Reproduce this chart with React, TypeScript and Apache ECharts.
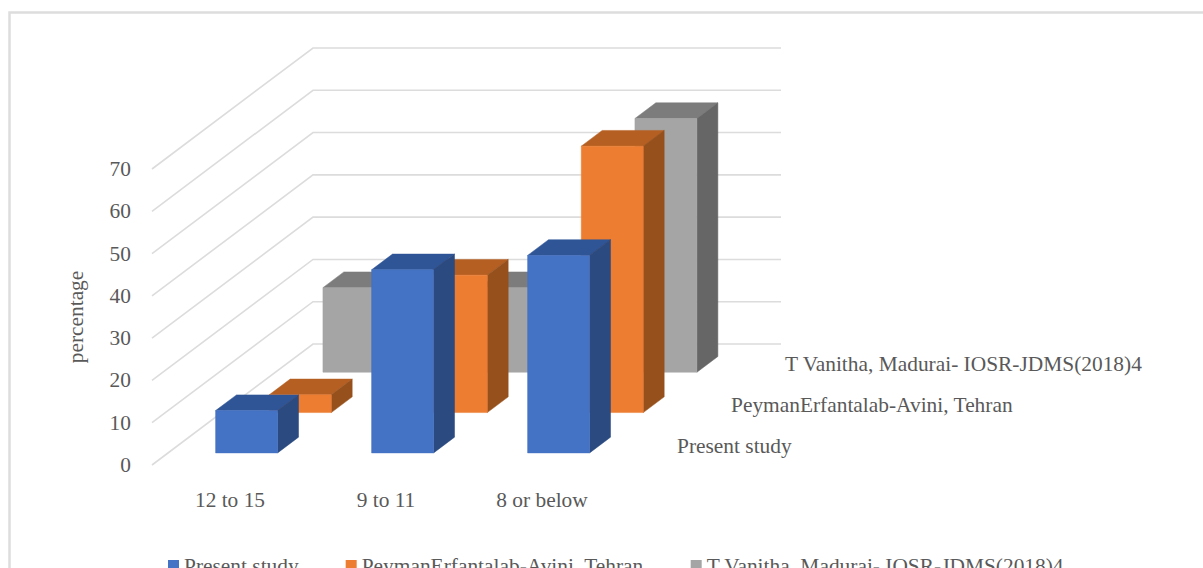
import React, { useEffect, useRef } from "react";
import * as echarts from "echarts";

const categories = ["12 to 15", "9 to 11", "8 or below"];
const seriesNames = [
  "Present study",
  "PeymanErfantalab-Avini, Tehran",
  "T Vanitha, Madurai- IOSR-JDMS(2018)4",
];
const presentStudy = [10, 43.3, 46.7];
const peymanTehran = [4.2, 32.5, 63];
const vanithaMadurai = [20, 20, 60];
const valueTicks = [0, 10, 20, 30, 40, 50, 60, 70];

const frontColors = ["#4472C4", "#ED7D31", "#A5A5A5"];
const topColors = ["#2F5597", "#B55F22", "#7C7C7C"];
const sideColors = ["#2A4A80", "#96501C", "#666666"];

// Oblique projection of the chart's depth direction, in pixels.
const DEPTH_X = 161;
const DEPTH_Y = -121;
const BAR_WIDTH = 62;
const ROW_START = 0.1;
const ROW_STEP = 1 / 3;
const BAR_DEPTH = 0.13;

const FONT = '"Liberation Serif", "Times New Roman", serif';
const TEXT_COLOR = "#595959";
const FONT_SIZE = 21.4;

function wallRenderer(params: any, api: any) {
  const cs = params.coordSys;
  const y = api.coord([0, api.value(0)])[1];
  return {
    type: "polyline",
    shape: {
      points: [
        [cs.x, y],
        [cs.x + DEPTH_X, y + DEPTH_Y],
        [cs.x + cs.width + DEPTH_X, y + DEPTH_Y],
      ],
    },
    style: { stroke: "#DCDCDC", lineWidth: 1.6, fill: "none" },
  };
}

function barRenderer(row: number) {
  return (_params: any, api: any) => {
    const base = api.coord([api.value(0), 0]);
    const head = api.coord([api.value(0), api.value(1)]);
    const start = ROW_START + row * ROW_STEP;
    const ox = start * DEPTH_X;
    const oy = start * DEPTH_Y;
    const dx = BAR_DEPTH * DEPTH_X;
    const dy = BAR_DEPTH * DEPTH_Y;
    const xl = base[0] - BAR_WIDTH / 2 + ox + 0.5;
    const xr = xl + BAR_WIDTH;
    const yb = base[1] + oy;
    const yt = head[1] + oy;
    const face = (points: number[][], fill: string) => ({
      type: "polygon",
      shape: { points },
      style: { fill, stroke: fill, lineWidth: 0.5 },
    });
    return {
      type: "group",
      children: [
        face(
          [[xl, yt], [xl + dx, yt + dy], [xr + dx, yt + dy], [xr, yt]],
          topColors[row]
        ),
        face(
          [[xr, yt], [xr + dx, yt + dy], [xr + dx, yb + dy], [xr, yb]],
          sideColors[row]
        ),
        face([[xl, yt], [xr, yt], [xr, yb], [xl, yb]], frontColors[row]),
      ],
    };
  };
}

const rowValues = [presentStudy, peymanTehran, vanithaMadurai];
const rowLabelPositions = [
  [677, 446],
  [731, 405],
  [785, 364],
];

export default function App() {
  const ref = useRef<HTMLDivElement>(null);

  useEffect(() => {
    const chart = echarts.init(ref.current!, null, { renderer: "svg" });
    chart.setOption({
      animation: false,
      backgroundColor: "#FFFFFF",
      textStyle: { fontFamily: FONT },
      grid: { left: 152, right: 583, top: 169, bottom: 103 },
      xAxis: {
        type: "category",
        data: categories,
        axisLine: { show: false },
        axisTick: { show: false },
        axisLabel: {
          color: TEXT_COLOR,
          fontFamily: FONT,
          fontSize: FONT_SIZE,
          margin: 24,
        },
      },
      yAxis: {
        type: "value",
        min: 0,
        max: 70,
        interval: 10,
        name: "percentage",
        nameLocation: "middle",
        nameGap: 66,
        nameTextStyle: { color: TEXT_COLOR, fontFamily: FONT, fontSize: FONT_SIZE },
        axisLine: { show: false },
        axisTick: { show: false },
        splitLine: { show: false },
        axisLabel: {
          color: TEXT_COLOR,
          fontFamily: FONT,
          fontSize: FONT_SIZE,
          margin: 21,
          padding: [3, 0, 0, 0],
        },
      },
      legend: {
        data: seriesNames,
        left: 163,
        top: 550,
        icon: "rect",
        itemWidth: 11,
        itemHeight: 11,
        itemGap: 47,
        textStyle: { color: TEXT_COLOR, fontFamily: FONT, fontSize: FONT_SIZE },
        selectedMode: false,
      },
      graphic: [
        {
          type: "polyline",
          silent: true,
          z: -10,
          shape: {
            points: [
              [9.5, 580],
              [9.5, 12.5],
              [1203, 12.5],
            ],
          },
          style: { fill: "none", stroke: "#DDDDDD", lineWidth: 2.5 },
        },
        ...seriesNames.map((name, i) => ({
          type: "text",
          silent: true,
          x: rowLabelPositions[i][0],
          y: rowLabelPositions[i][1],
          style: {
            text: name,
            fill: TEXT_COLOR,
            font: `${FONT_SIZE}px ${FONT}`,
            verticalAlign: "middle",
          },
        })),
      ],
      series: [
        {
          type: "custom",
          name: "walls",
          silent: true,
          z: 1,
          data: valueTicks.map((v) => [v]),
          encode: { y: 0 },
          renderItem: wallRenderer,
        },
        ...seriesNames.map((name, i) => ({
          type: "custom",
          name,
          silent: true,
          z: 5 - i,
          itemStyle: { color: frontColors[i] },
          data: rowValues[i].map((v, c) => [c, v]),
          encode: { x: 0, y: 1 },
          renderItem: barRenderer(i),
        })),
      ],
    });
    return () => chart.dispose();
  }, []);

  return (
    <div
      ref={ref}
      style={{ position: "absolute", left: 0, top: 0, width: 1203, height: 568 }}
    />
  );
}
